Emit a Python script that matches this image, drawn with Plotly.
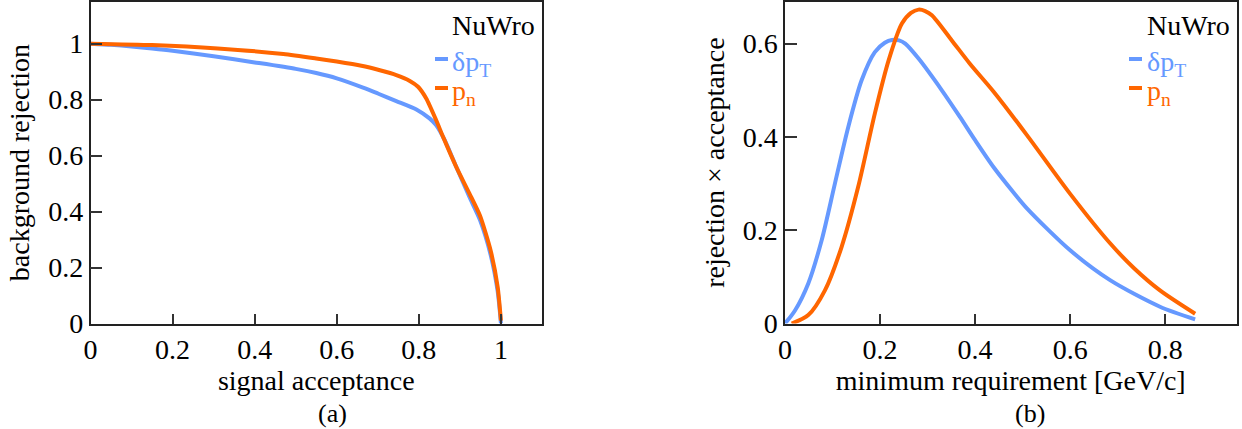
import plotly.graph_objects as go

# ---------------- data ----------------
# panel (a): background rejection vs signal acceptance
roc_dpt_x = [0.0, 0.05, 0.1, 0.15, 0.2, 0.3, 0.4, 0.5, 0.55, 0.6, 0.664, 0.7, 0.745, 0.794, 0.826, 0.842, 0.863, 0.891, 0.923, 0.949, 0.975, 0.992, 1.0]
roc_dpt_y = [1.0, 0.996, 0.99, 0.983, 0.975, 0.955, 0.933, 0.910, 0.895, 0.876, 0.843, 0.822, 0.795, 0.765, 0.733, 0.709, 0.655, 0.560, 0.453, 0.370, 0.245, 0.115, 0.0]
roc_pn_x = [0.0, 0.15, 0.31, 0.47, 0.55, 0.6, 0.66, 0.705, 0.745, 0.778, 0.798, 0.818, 0.842, 0.859, 0.891, 0.923, 0.949, 0.975, 0.992, 1.0]
roc_pn_y = [1.0, 0.995, 0.983, 0.963, 0.947, 0.936, 0.921, 0.905, 0.888, 0.867, 0.846, 0.804, 0.727, 0.667, 0.560, 0.465, 0.385, 0.260, 0.130, 0.010]

# panel (b): rejection x acceptance vs minimum requirement [GeV/c]
fom_dpt_x = [0.0, 0.021, 0.049, 0.077, 0.105, 0.133, 0.161, 0.189, 0.21, 0.225, 0.24, 0.253, 0.281, 0.33, 0.368, 0.40, 0.439, 0.48, 0.509, 0.60, 0.684, 0.789, 0.863]
fom_dpt_y = [0.0, 0.028, 0.086, 0.178, 0.300, 0.421, 0.521, 0.582, 0.602, 0.608, 0.607, 0.600, 0.568, 0.500, 0.443, 0.393, 0.335, 0.282, 0.247, 0.157, 0.093, 0.036, 0.009]
fom_pn_x = [0.014, 0.049, 0.084, 0.119, 0.154, 0.189, 0.218, 0.246, 0.265, 0.281, 0.295, 0.309, 0.351, 0.389, 0.439, 0.509, 0.60, 0.684, 0.735, 0.789, 0.863]
fom_pn_y = [0.0, 0.018, 0.071, 0.164, 0.293, 0.450, 0.564, 0.643, 0.666, 0.673, 0.670, 0.661, 0.607, 0.557, 0.497, 0.404, 0.278, 0.172, 0.118, 0.071, 0.021]

series_names = ["δp<sub>T</sub>", "p<sub>n</sub>"]
generator_label = "NuWro"
panel_labels = ["(a)", "(b)"]
xa_ticks = [0, 0.2, 0.4, 0.6, 0.8, 1]
xa_ticktext = ["0", "0.2", "0.4", "0.6", "0.8", "1"]
ya_ticks = [0, 0.2, 0.4, 0.6, 0.8, 1]
ya_ticktext = ["0", "0.2", "0.4", "0.6", "0.8", "1"]
xb_ticks = [0, 0.2, 0.4, 0.6, 0.8]
xb_ticktext = ["0", "0.2", "0.4", "0.6", "0.8"]
yb_ticks = [0, 0.2, 0.4, 0.6]
yb_ticktext = ["0", "0.2", "0.4", "0.6"]

# ---------------- style ----------------
W, H = 1242, 429
BLUE = "#6699ff"
ORANGE = "#ff6600"
FONT = "Liberation Serif"
FS = 28

def px(x):
    return x / W

def py(y):
    return 1 - y / H

fig = go.Figure()
fig.add_trace(go.Scatter(x=roc_dpt_x, y=roc_dpt_y, mode="lines", line=dict(color=BLUE, width=4, shape="spline", smoothing=0.6), xaxis="x", yaxis="y", showlegend=False))
fig.add_trace(go.Scatter(x=roc_pn_x, y=roc_pn_y, mode="lines", line=dict(color=ORANGE, width=4, shape="spline", smoothing=0.6), xaxis="x", yaxis="y", showlegend=False))
fig.add_trace(go.Scatter(x=fom_dpt_x, y=fom_dpt_y, mode="lines", line=dict(color=BLUE, width=4, shape="spline", smoothing=0.8), xaxis="x2", yaxis="y2", showlegend=False))
fig.add_trace(go.Scatter(x=fom_pn_x, y=fom_pn_y, mode="lines", line=dict(color=ORANGE, width=4, shape="spline", smoothing=0.8), xaxis="x2", yaxis="y2", showlegend=False))

axis_common = dict(
    ticks="inside", tickcolor="#333", tickwidth=1.5,
    showline=True, mirror=True, linecolor="#222", linewidth=1.5,
    showgrid=False, zeroline=False, tickmode="array", automargin=False,
    tickfont=dict(family=FONT, size=FS, color="black"),
    title_font=dict(family=FONT, size=FS, color="black"),
)

top, bottom = 1.7, 323.5
fig.update_layout(
    template="none",
    width=W, height=H,
    margin=dict(l=0, r=0, t=0, b=0, pad=0),
    paper_bgcolor="white", plot_bgcolor="white",
    font=dict(family=FONT, size=FS, color="black"),
    showlegend=False,
    xaxis=dict(axis_common, domain=[px(90.5), px(542)], range=[0, 1.1], tickvals=xa_ticks, ticktext=xa_ticktext, ticklen=10,
               title=dict(text="signal acceptance", standoff=0), anchor="y"),
    yaxis=dict(axis_common, domain=[py(bottom), py(top)], range=[0, 1.15], tickvals=ya_ticks, ticktext=ya_ticktext, ticklen=12,
               title=dict(text="background rejection", standoff=10), anchor="x"),
    xaxis2=dict(axis_common, domain=[px(785), px(1236.5)], range=[0, 0.95], tickvals=xb_ticks, ticktext=xb_ticktext, ticklen=10,
                title=dict(text="minimum requirement [GeV/c]", standoff=0), anchor="y2"),
    yaxis2=dict(axis_common, domain=[py(bottom), py(top)], range=[0, 0.69], tickvals=yb_ticks, ticktext=yb_ticktext, ticklen=12,
                title=dict(text="rejection × acceptance", standoff=10), anchor="x2"),
)

# legend-like labels, drawn as text
for x_text, x_d0, x_d1 in [(450, 435, 448), (1145, 1129, 1142)]:
    fig.add_annotation(x=px(x_text), y=py(25), xref="paper", yref="paper", text=generator_label,
                       showarrow=False, xanchor="left", yanchor="middle", font=dict(family=FONT, size=FS, color="black"))
    for name, color, yrow in [(series_names[0], BLUE, 59), (series_names[1], ORANGE, 88)]:
        fig.add_annotation(x=px(x_text), y=py(yrow + 4), xref="paper", yref="paper", text=name,
                           showarrow=False, xanchor="left", yanchor="middle", font=dict(family=FONT, size=FS, color=color))
        fig.add_shape(type="line", xref="paper", yref="paper", x0=px(x_d0), x1=px(x_d1), y0=py(yrow), y1=py(yrow),
                      line=dict(color=color, width=4))

for lab, xc in zip(panel_labels, [332, 1030]):
    fig.add_annotation(x=px(xc), y=py(413), xref="paper", yref="paper", text=lab, showarrow=False,
                       xanchor="center", yanchor="middle", font=dict(family=FONT, size=26, color="black"))

fig.write_html(
    "out.html",
    config={"displayModeBar": False},
    post_script="document.body.style.margin='0';document.body.style.padding='0';document.body.style.overflow='hidden';",
)
